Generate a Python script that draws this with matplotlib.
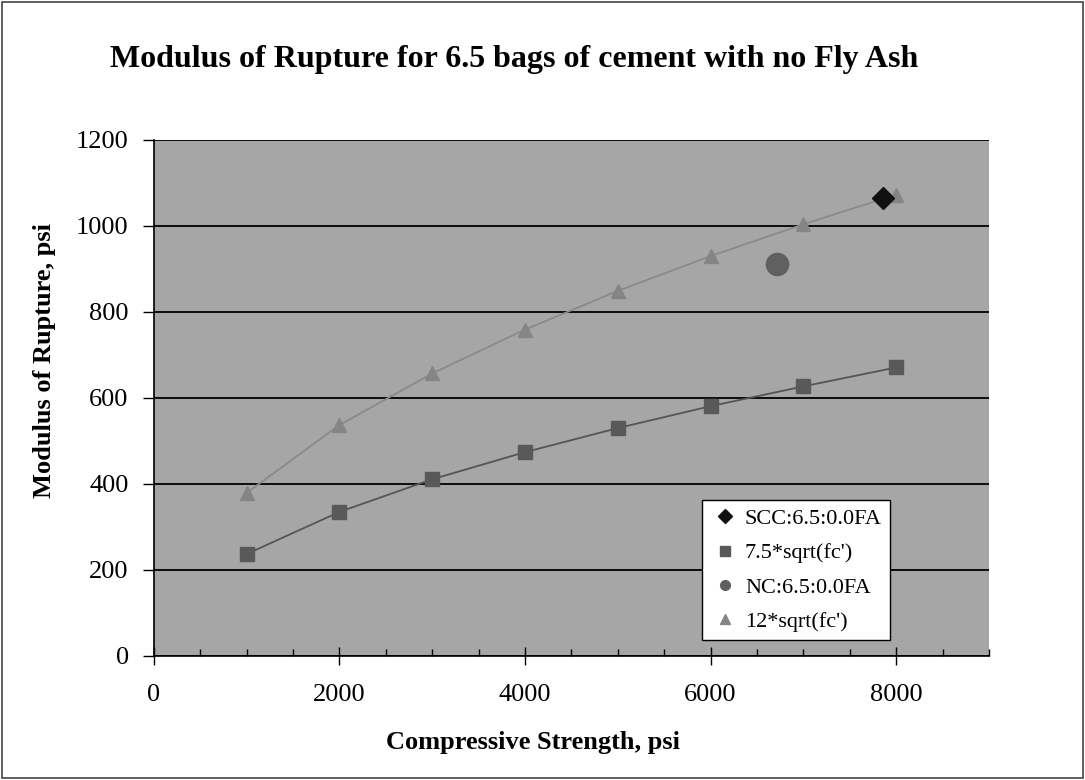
import matplotlib
matplotlib.use("Agg")
import matplotlib.pyplot as plt
from matplotlib.ticker import MultipleLocator
from matplotlib.patches import Rectangle
from matplotlib.lines import Line2D

# data
strength = [1000, 2000, 3000, 4000, 5000, 6000, 7000, 8000]
mor_12 = [379, 537, 657, 759, 849, 930, 1004, 1073]
mor_75 = [237, 335, 411, 474, 530, 581, 627, 671]

scc_x = [7855]
scc_y = [1066]
nc_x = [6720]
nc_y = [911]

plt.rcParams["font.family"] = ["Liberation Serif", "DejaVu Serif"]

fig = plt.figure(figsize=(10.85, 7.8), dpi=100)
ax = fig.add_axes([153.7 / 1085, 124 / 780, (989 - 153.7) / 1085, (656 - 140) / 780])
ax.set_facecolor("#a6a6a6")

# curves + markers
ax.plot(strength, mor_75, color="#555555", lw=1.3, zorder=3)
ax.plot(strength, mor_12, color="#8a8a8a", lw=1.3, zorder=3)
ax.plot(strength, mor_75, ls="none", marker="s", ms=9.5, color="#595959", zorder=4)
ax.plot(strength, mor_12, ls="none", marker="^", ms=10.5, color="#858585", zorder=4)
ax.plot(scc_x, scc_y, ls="none", marker="D", ms=11, color="#111111", zorder=5)
ax.plot(nc_x, nc_y, ls="none", marker="o", ms=16, color="#606060", zorder=5)

ax.set_xlim(0, 9000)
ax.set_ylim(0, 1200)
ax.xaxis.set_minor_locator(MultipleLocator(500))
ax.yaxis.set_major_locator(MultipleLocator(200))
ax.set_xticks([0, 2000, 4000, 6000, 8000])
ax.set_xticklabels(["0", "2000", "4000", "6000", "8000"])

ax.grid(axis="y", color="black", lw=1.3, zorder=1)
ax.set_axisbelow(True)
for s in ["top", "right"]:
    ax.spines[s].set_visible(False)
for s in ["left", "bottom"]:
    ax.spines[s].set_color("black")
    ax.spines[s].set_linewidth(1.2)

ax.tick_params(axis="x", which="major", direction="inout", length=13, width=1,
               pad=14, labelsize=19)
ax.tick_params(axis="x", which="minor", direction="in", length=5, width=1)
ax.tick_params(axis="y", which="major", direction="out", length=8, width=1,
               pad=10, labelsize=19)

# titles
fig.text(514 / 1085, 1 - 60 / 780,
         "Modulus of Rupture for 6.5 bags of cement with no Fly Ash",
         ha="center", va="center", fontsize=23, fontweight="bold")
fig.text(533 / 1085, 1 - 742 / 780, "Compressive Strength, psi",
         ha="center", va="center", fontsize=19, fontweight="bold")
fig.text(45 / 1085, 1 - 360 / 780, "Modulus of Rupture, psi",
         ha="center", va="center", rotation=90, fontsize=19, fontweight="bold")

# legend, all markers same small size like the original
handles = [
    Line2D([], [], ls="none", marker="D", ms=7, color="#111111", label="SCC:6.5:0.0FA"),
    Line2D([], [], ls="none", marker="s", ms=7, color="#595959", label="7.5*sqrt(fc')"),
    Line2D([], [], ls="none", marker="o", ms=7, color="#606060", label="NC:6.5:0.0FA"),
    Line2D([], [], ls="none", marker="^", ms=7.5, color="#858585", label="12*sqrt(fc')"),
]
leg = ax.legend(handles=handles,
                loc="upper left", bbox_to_anchor=(702 / 1085, 1 - 500 / 780),
                bbox_transform=fig.transFigure, borderaxespad=0,
                fontsize=16, frameon=True,
                fancybox=False, edgecolor="black", framealpha=1,
                handlelength=1.35, handletextpad=0.2, labelspacing=0.62,
                borderpad=0.38)
leg.get_frame().set_linewidth(1.0)

# outer border of chart area
fig.patches.append(Rectangle((0.002, 0.002), 0.996, 0.996, transform=fig.transFigure,
                             fill=False, edgecolor="#444444", lw=1.2))

fig.savefig("out.png", dpi=100)
